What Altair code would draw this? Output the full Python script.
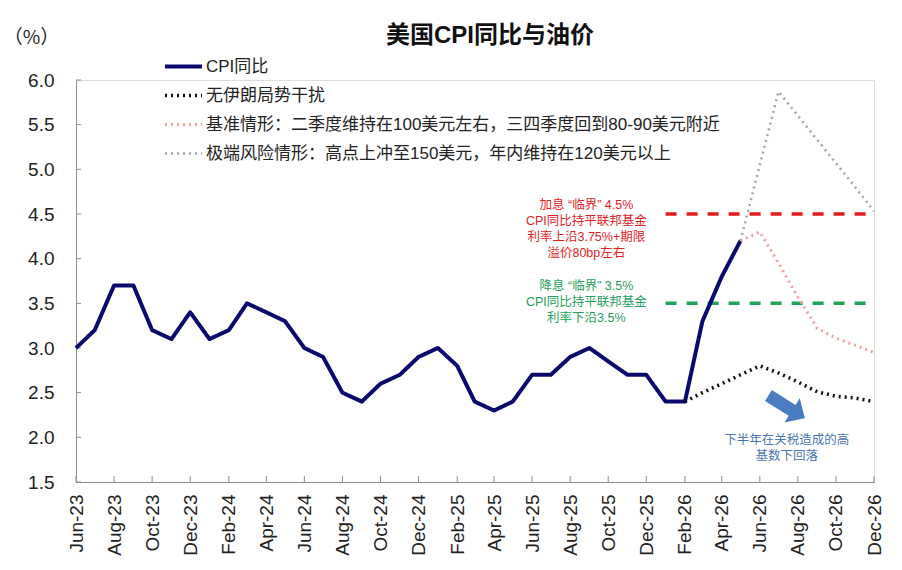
import altair as alt
import pandas as pd

FONT = "Liberation Sans, Arial, Noto Sans CJK SC, sans-serif"

# ---------------- data ----------------
series_names = [
    "CPI同比",
    "无伊朗局势干扰",
    "基准情形：二季度维持在100美元左右，三四季度回到80-90美元附近",
    "极端风险情形：高点上冲至150美元，年内维持在120美元以上",
]
series_colors = ["#0a0a6e", "#111111", "#f2a0a0", "#a6a6a6"]
series_dash = [[1, 0], [2, 4], [2, 4], [2, 4]]
series_width = [4.0, 2.6, 2.3, 2.3]

cpi_months = pd.date_range("2023-06-01", "2026-05-01", freq="MS").strftime("%Y-%m-%d").tolist()
cpi_values = [3.0, 3.2, 3.7, 3.7, 3.2, 3.1, 3.4,
              3.1, 3.2, 3.5, 3.4, 3.3, 3.0, 2.9, 2.5, 2.4, 2.6, 2.7, 2.9,
              3.0, 2.8, 2.4, 2.3, 2.4, 2.7, 2.7, 2.9, 3.0, 2.85, 2.7, 2.7,
              2.4, 2.4, 3.3, 3.8, 4.2]

no_iran_months = pd.date_range("2026-02-01", "2026-12-01", freq="MS").strftime("%Y-%m-%d").tolist()
no_iran_values = [2.4, 2.5, 2.6, 2.7, 2.8, 2.72, 2.62, 2.51, 2.46, 2.44, 2.4]

scen_months = pd.date_range("2026-05-01", "2026-12-01", freq="MS").strftime("%Y-%m-%d").tolist()
base_values = [4.2, 4.3, 3.95, 3.57, 3.22, 3.11, 3.03, 2.95]
extreme_values = [4.2, 5.05, 5.87, 5.6, 5.33, 5.07, 4.8, 4.53]

threshold_start = "2026-01-01"
threshold_end = "2026-12-01"
hike_level = 4.5
cut_level = 3.5

y_ticks = [1.5, 2.0, 2.5, 3.0, 3.5, 4.0, 4.5, 5.0, 5.5, 6.0]
x_tick_months = pd.date_range("2023-06-01", "2026-12-01", freq="2MS").strftime("%Y-%m-%d").tolist()

hike_note = ["加息 “临界” 4.5%", "CPI同比持平联邦基金", "利率上沿3.75%+期限", "溢价80bp左右"]
cut_note = ["降息 “临界” 3.5%", "CPI同比持平联邦基金", "利率下沿3.5%"]
base_note = ["下半年在关税造成的高", "基数下回落"]

# ---------------- tables ----------------
rows = []
for m, v in zip(cpi_months, cpi_values):
    rows.append({"series": series_names[0], "date": m, "value": v})
for m, v in zip(no_iran_months, no_iran_values):
    rows.append({"series": series_names[1], "date": m, "value": v})
for m, v in zip(scen_months, base_values):
    rows.append({"series": series_names[2], "date": m, "value": v})
for m, v in zip(scen_months, extreme_values):
    rows.append({"series": series_names[3], "date": m, "value": v})
lines_df = pd.DataFrame(rows)

thr_df = pd.DataFrame({
    "start": [threshold_start, threshold_start],
    "end": [threshold_end, threshold_end],
    "level": [hike_level, cut_level],
    "kind": ["hike", "cut"],
})

ms = lambda s: int(pd.Timestamp(s, tz="UTC").value // 10**6)
x_domain = [ms("2023-06-01"), ms("2026-12-01")]
x_tick_values = [ms(m) for m in x_tick_months]

x_scale = alt.Scale(type="utc", domain=x_domain, nice=False)
y_scale = alt.Scale(domain=[1.5, 6.0], nice=False, zero=False)

legend = alt.Legend(
    orient="none", legendX=87, legendY=-28, title=None,
    symbolType="stroke", symbolSize=1369, clipHeight=29, rowPadding=0,
    padding=0, labelOffset=2, labelFontSize=17, labelFont=FONT,
    labelColor="#222222", labelLimit=700, symbolStrokeWidth=2.6,
)

x_axis = alt.Axis(
    values=x_tick_values, labelExpr="utcFormat(datum.value, '%b-%y')",
    labelAngle=-90, labelFontSize=19, labelFont=FONT, labelColor="#222222",
    labelPadding=12, ticks=False, domainColor="#8c8c8c", grid=False, title=None,
    labelOverlap=False, labelFlush=False, labelBound=False,
)
y_axis = alt.Axis(
    values=y_ticks, format=".1f", labelFontSize=19, labelFont=FONT,
    labelColor="#222222", labelPadding=22, ticks=False, domainColor="#8c8c8c",
    grid=False, title="（%）", titleAngle=0, titleX=-45, titleY=-43,
    titleAlign="center", titleBaseline="middle", titleFontSize=19,
    titleFont="Noto Sans CJK SC", titleFontWeight="normal", titleColor="#222222",
    labelOverlap=False,
)

X = lambda f: alt.X(f, scale=x_scale, axis=x_axis)
Y = lambda f: alt.Y(f, scale=y_scale, axis=y_axis)

# ---------------- layers ----------------
y_ticks_layer = alt.Chart(pd.DataFrame({"t": y_ticks})).mark_rule(color="#8c8c8c", strokeWidth=1).encode(
    y=Y("t:Q"), x=alt.value(0), x2=alt.value(5),
)
x_ticks_layer = alt.Chart(pd.DataFrame({"d": x_tick_months})).mark_rule(color="#8c8c8c", strokeWidth=1).encode(
    x=X("d:T"), y=alt.value(402), y2=alt.value(396),
)

thr = alt.Chart(thr_df).mark_rule(strokeWidth=3.5, strokeDash=[11, 10]).encode(
    x=X("start:T"),
    x2="end:T",
    y=Y("level:Q"),
    stroke=alt.Stroke("kind:N", scale=alt.Scale(domain=["hike", "cut"], range=["#e31a1c", "#21a35a"]), legend=None),
)

lines = alt.Chart(lines_df).mark_line(strokeJoin="round").encode(
    x=X("date:T"),
    y=Y("value:Q"),
    color=alt.Color("series:N", scale=alt.Scale(domain=series_names, range=series_colors), legend=legend),
    strokeDash=alt.StrokeDash("series:N", scale=alt.Scale(domain=series_names, range=series_dash), legend=legend),
    strokeWidth=alt.StrokeWidth("series:N", scale=alt.Scale(domain=series_names, range=series_width), legend=None),
    order="date:T",
)

def note(lines_, date, level, color):
    return alt.Chart(pd.DataFrame({"d": [date], "v": [level]})).mark_text(
        text="\n".join(lines_), lineBreak="\n", lineHeight=16, fontSize=12.5,
        font=FONT, color=color, align="center", baseline="middle",
    ).encode(x=X("d:T"), y=Y("v:Q"))

hike_text = note(hike_note, "2025-08-27", 4.60, "#e0231f")
cut_text = note(cut_note, "2025-08-27", 3.69, "#27a05a")
base_text = note(base_note, "2026-07-14", 1.97, "#4a76b0")

arrow_path = "M-1,-0.3 L0.3,-0.3 L0.3,-0.67 L1,0 L0.3,0.67 L0.3,0.3 L-1,0.3 Z"
arrow = alt.Chart(pd.DataFrame({"d": ["2026-07-14"], "v": [2.34]})).mark_point(
    shape=arrow_path, filled=True, size=1850, angle=32, color="#4a7cc0", opacity=1,
).encode(x=X("d:T"), y=Y("v:Q"))

chart = alt.layer(
    y_ticks_layer, x_ticks_layer, thr, lines, hike_text, cut_text, base_text, arrow
).properties(
    width=798, height=402,
    autosize=alt.AutoSizeParams(type="none"),
    padding={"left": 76, "top": 80, "right": 28, "bottom": 88},
    title=alt.TitleParams(
        "美国CPI同比与油价", anchor="middle", frame="group", fontSize=24,
        fontWeight="bold", font=FONT, color="#111111", dx=15, dy=40, offset=20,
    ),
).configure_view(stroke=None).configure(background="white")

chart.save("out.html", embed_options={"renderer": "svg", "actions": False})
